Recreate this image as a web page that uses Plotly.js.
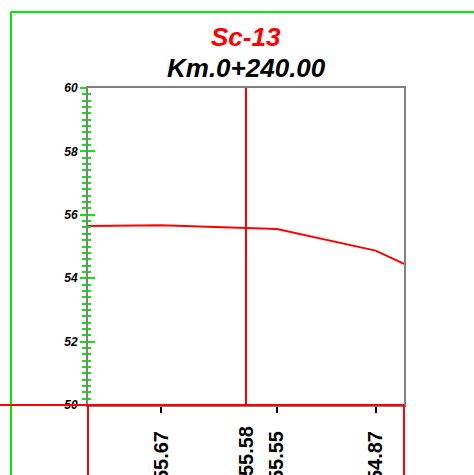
<!DOCTYPE html>
<html><head><meta charset="utf-8">
<script src="https://cdn.plot.ly/plotly-3.0.1.min.js"></script>
<style>html,body{margin:0;padding:0;background:#fff}</style>
</head><body>
<div id="chart" style="width:474px;height:475px"></div>
<script>
const titleName = "Sc-13";
const titleKm = "Km.0+240.00";
const offsets = [-5, -2.69, 0, 0.98, 4.1, 5];
const elevations = [55.65, 55.67, 55.58, 55.55, 54.87, 54.45];
const labelIdx = [1, 3, 4];
const centerIdx = 2;
const yTicks = [50, 52, 54, 56, 58, 60];

const font = "Liberation Sans, Arial, sans-serif";
const W = 474, H = 475, L = 88, R = 70, T = 88, B = 70;
const pw = W - L - R, ph = H - T - B;
const green = '#00ee00';

const traces = [{
  x: offsets, y: elevations, type: 'scatter', mode: 'lines',
  line: {color: '#ff0000', width: 2}, hoverinfo: 'skip', cliponaxis: true
}, {
  x: [offsets[centerIdx]], y: [elevations[centerIdx]], xaxis: 'x2', yaxis: 'y2',
  type: 'scatter', mode: 'markers', marker: {opacity: 0, size: 1}, hoverinfo: 'skip'
}];

const layout = {
  width: W, height: H,
  margin: {l: L, r: R, t: T, b: B},
  paper_bgcolor: '#fff', plot_bgcolor: '#fff',
  showlegend: false,
  xaxis: {
    range: [-5, 5], showgrid: false, zeroline: false,
    tickvals: labelIdx.map(i => offsets[i]),
    ticktext: labelIdx.map(i => elevations[i].toFixed(2)),
    ticks: 'outside', ticklen: 6, tickwidth: 2, tickcolor: '#000',
    tickangle: -90, ticklabelstandoff: 10,
    tickfont: {family: font, size: 20, color: '#000', weight: 'bold'},
    showline: true, linecolor: '#808080', linewidth: 2, mirror: true
  },
  xaxis2: {
    overlaying: 'x', range: [-5, 5], side: 'bottom', showgrid: false, zeroline: false,
    tickvals: [offsets[centerIdx]], ticktext: [elevations[centerIdx].toFixed(2)],
    ticks: '', tickangle: -90, ticklabelstandoff: 16,
    tickfont: {family: font, size: 20, color: '#000', weight: 'bold'},
    showline: false
  },
  yaxis: {
    range: [50, 60], showgrid: false, zeroline: false,
    tickvals: yTicks, ticktext: yTicks.map(String),
    ticks: 'outside', ticklen: 6, tickwidth: 2, tickcolor: green,
    minor: {dtick: 0.2, ticks: 'outside', ticklen: 4, tickwidth: 2, tickcolor: green, showgrid: false},
    ticklabelstandoff: 0,
    tickfont: {family: font, size: 12, color: '#000', weight: 'bold', style: 'italic'},
    showline: true, linecolor: '#808080', linewidth: 2, mirror: true
  },
  yaxis2: {
    overlaying: 'y', range: [50, 60], showgrid: false, zeroline: false,
    tickvals: yTicks, showticklabels: false,
    ticks: 'inside', ticklen: 7, tickwidth: 2, tickcolor: green,
    minor: {dtick: 0.2, ticks: 'inside', ticklen: 3, tickwidth: 2, tickcolor: green, showgrid: false},
    showline: false
  },
  shapes: [
    {type: 'line', xref: 'paper', yref: 'paper', x0: (11 - L) / pw, x1: (W + 5 - L) / pw, y0: (H - B - 12) / ph, y1: (H - B - 12) / ph, line: {color: green, width: 2}},
    {type: 'line', xref: 'paper', yref: 'paper', x0: (11 - L) / pw, x1: (11 - L) / pw, y0: (H - B - 12) / ph, y1: -B / ph - 0.05, line: {color: green, width: 2}},
    {type: 'line', xref: 'paper', yref: 'paper', x0: -L / pw, x1: 1, y0: 0, y1: 0, line: {color: '#ff0000', width: 2}},
    {type: 'line', xref: 'paper', yref: 'paper', x0: 0, x1: 0, y0: 0, y1: -B / ph - 0.05, line: {color: '#ff0000', width: 2}},
    {type: 'line', xref: 'paper', yref: 'paper', x0: 1, x1: 1, y0: 0, y1: -B / ph - 0.05, line: {color: '#ff0000', width: 2}},
    {type: 'line', xref: 'x', yref: 'paper', x0: 0, x1: 0, y0: 0, y1: 1, line: {color: '#ff0000', width: 2}}
  ],
  annotations: [
    {text: titleName, xref: 'paper', yref: 'paper', x: 0.5, y: (H - B - 37) / ph, showarrow: false,
     font: {family: font, size: 26, color: '#ff0000', weight: 'bold', style: 'italic'}, xanchor: 'center', yanchor: 'middle'},
    {text: titleKm, xref: 'paper', yref: 'paper', x: 0.5, y: (H - B - 68) / ph, showarrow: false,
     font: {family: font, size: 26, color: '#000', weight: 'bold', style: 'italic'}, xanchor: 'center', yanchor: 'middle'}
  ]
};

Plotly.newPlot('chart', traces, layout, {staticPlot: true, displayModeBar: false});
</script>
</body></html>
